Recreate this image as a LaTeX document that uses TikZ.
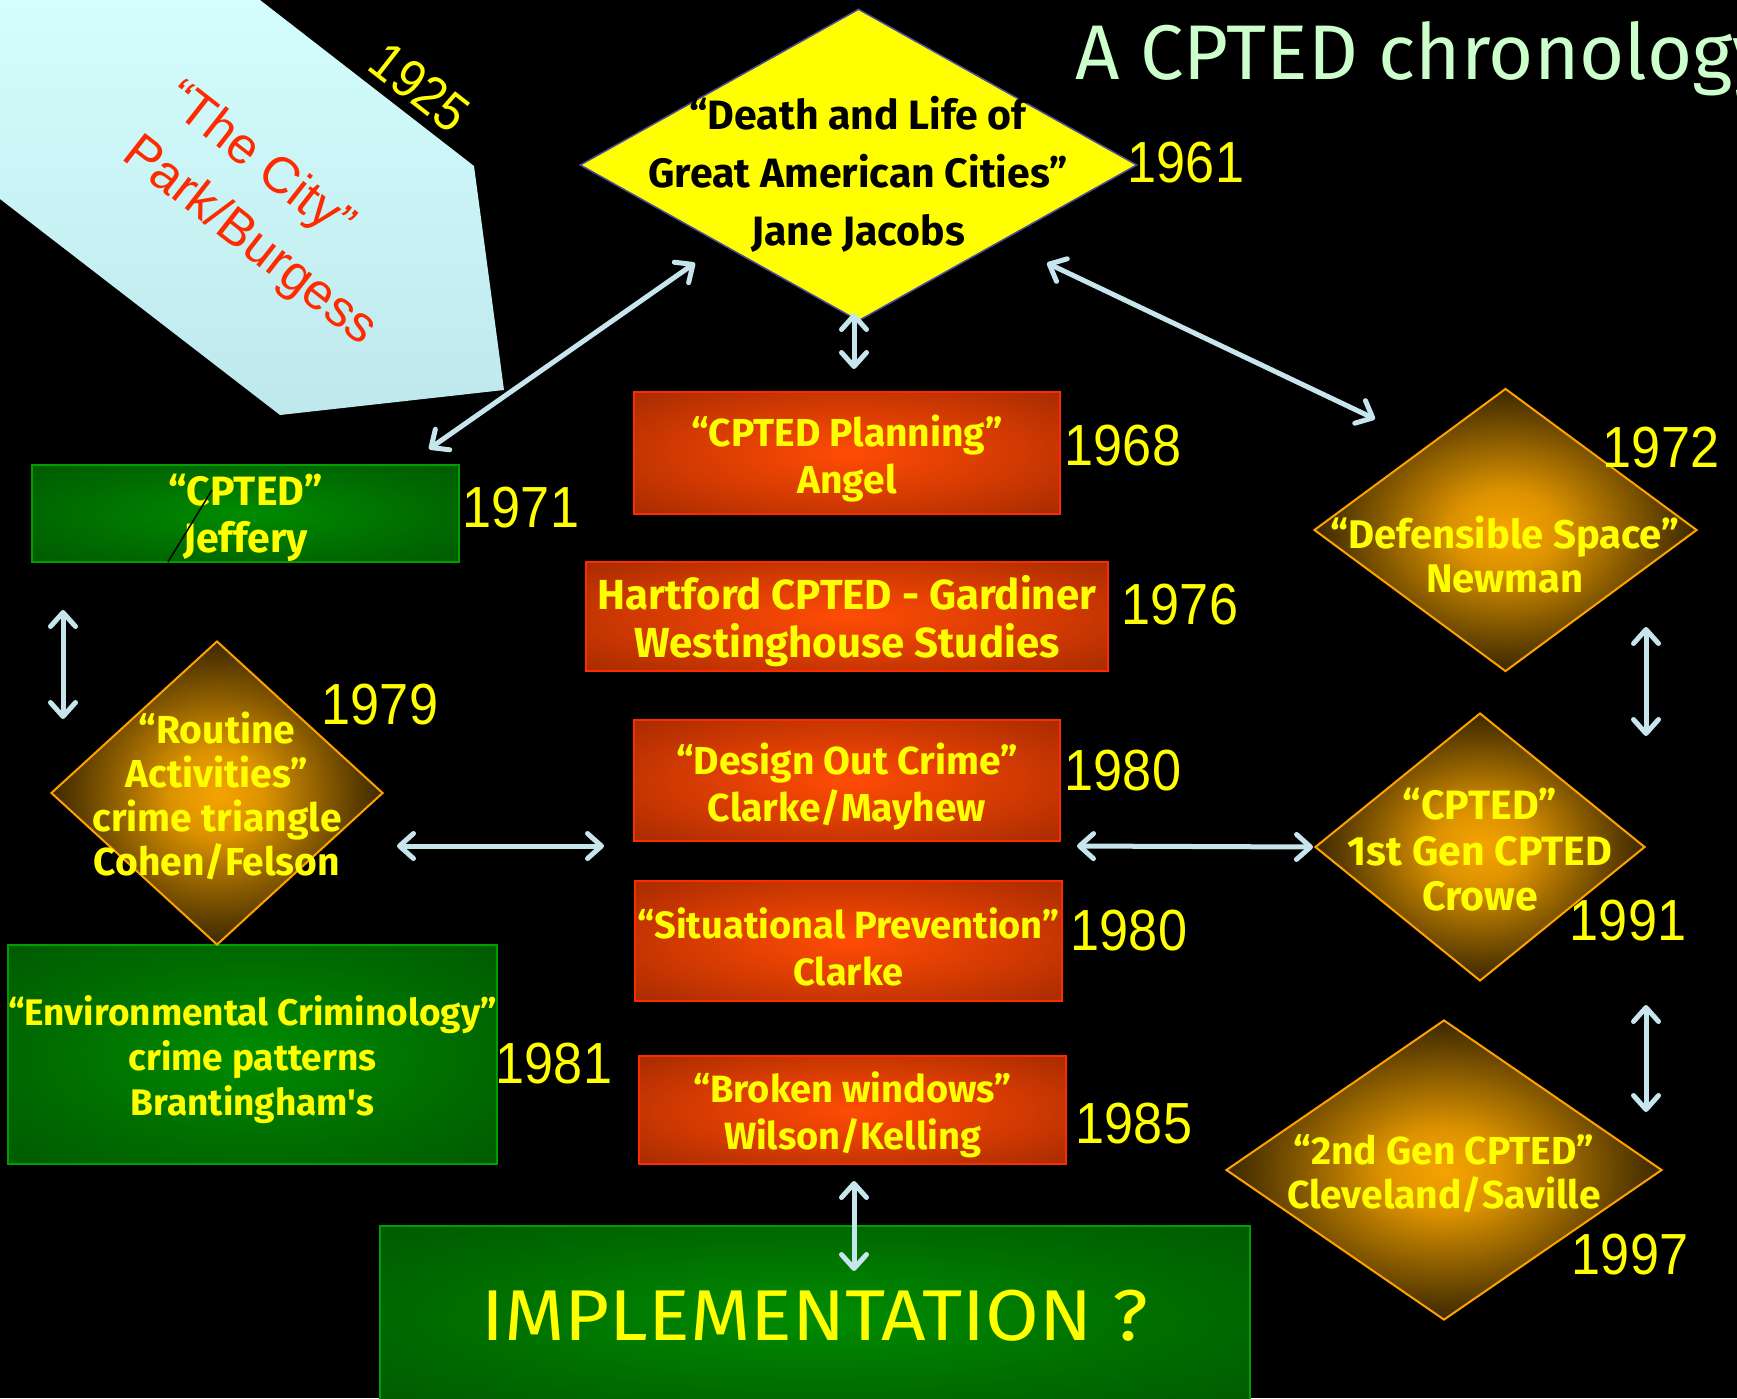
\documentclass[tikz,border=0pt]{standalone}
\usepackage{fontspec}
\usetikzlibrary{shapes.geometric, arrows.meta}
\newfontfamily\boxfont{Fira Sans}
\newfontfamily\implfont{Fira Sans}[FakeStretch=1.08]
\newfontfamily\yearfont{Liberation Sans}[FakeStretch=0.9]
\newfontfamily\cityfont{Liberation Sans}
\definecolor{txtyellow}{HTML}{FFFF00}
\definecolor{boxred}{HTML}{FF2A00}
\definecolor{redin}{HTML}{FF4C05}
\definecolor{redmid}{HTML}{D23A02}
\definecolor{redout}{HTML}{841F00}
\definecolor{boxgreen}{HTML}{009E00}
\definecolor{greenin}{HTML}{008C00}
\definecolor{greenmid}{HTML}{006E00}
\definecolor{greenout}{HTML}{004A00}
\definecolor{diaorange}{HTML}{FFA200}
\definecolor{orangein}{HTML}{F5A300}
\definecolor{linkblue}{HTML}{C6E5EC}
\definecolor{titlegreen}{HTML}{CCFFCC}
\definecolor{penttop}{HTML}{D4FDFD}
\definecolor{pentbot}{HTML}{BEE8EC}
\definecolor{cityred}{HTML}{FF2B00}
\definecolor{diablue}{HTML}{4A4AA0}
\pgfdeclareradialshading{redglow}{\pgfpoint{0bp}{0bp}}{color(0bp)=(redin); color(20bp)=(redmid); color(48bp)=(redout); color(50bp)=(redout)}
\pgfdeclareradialshading{greenglow}{\pgfpoint{0bp}{0bp}}{color(0bp)=(greenin); color(20bp)=(greenmid); color(48bp)=(greenout); color(50bp)=(greenout)}
\pgfdeclareradialshading{orangeglow}{\pgfpoint{0bp}{0bp}}{color(0bp)=(orangein); color(7bp)=(orangein!90!black); color(20bp)=(orangein!42!black); color(32bp)=(black); color(50bp)=(black)}
\tikzset{
  redbox/.style={rectangle, draw=boxred, line width=2pt, shade, shading=redglow, inner sep=0pt},
  greenbox/.style={rectangle, draw=boxgreen, line width=2pt, shade, shading=greenglow, inner sep=0pt},
  glowdia/.style={diamond, draw=diaorange, line width=2pt, shade, shading=orangeglow, inner sep=0pt},
  boxtext/.style={text=txtyellow, align=center, inner sep=0pt},
  yeartext/.style={text=txtyellow, inner sep=0pt, font=\yearfont\fontsize{58}{58}\selectfont},
  citytext/.style={text=cityred, inner sep=0pt, anchor=base west, rotate=-38, font=\cityfont\fontsize{51}{51}\selectfont},
  link/.style={draw=linkblue, line width=5pt, line cap=round, <->,
    >={Straight Barb[length=14pt,width=25pt,line cap=round,line join=round]}},
}
\begin{document}
\begin{tikzpicture}[x=1pt,y=-1pt]
\useasboundingbox (0,0) rectangle (1737,1398);
\clip (0,0) rectangle (1737,1398);
\fill[black] (0,0) rectangle (1737,1398);

% pentagon
\path[top color=penttop, bottom color=pentbot] (0,0) -- (260,0) -- (474,166) -- (504,390) -- (280,415) -- (0,199) -- cycle;
\node[citytext] (city1) at (162,104) {“The City”};
\node[citytext] (city2) at (120,158) {Park/Burgess};
\node[yeartext, rotate=-38, font=\yearfont\fontsize{54}{54}\selectfont] (y1925) at (420,87) {1925};

% title
\node[anchor=base west, inner sep=0pt, text=titlegreen, font=\boxfont\fontsize{77.5}{77.5}\selectfont] (title) at (1075,79) {A CPTED chronology};

% yellow diamond
\node[diamond, draw=diablue, line width=1.5pt, fill=txtyellow, inner sep=0pt, minimum width=557pt, minimum height=312pt] (jacobs) at (858.5,165) {};
\node[boxtext, text=black, font=\boxfont\bfseries\fontsize{41}{58}\selectfont] (jacobstxt) at (858,174) {“Death and Life of\\Great American Cities”\\Jane Jacobs};

% red boxes
\node[redbox, minimum width=426pt, minimum height=122pt] (planning) at (847,453) {};
\node[boxtext, font=\boxfont\bfseries\fontsize{39}{47}\selectfont] (planningtxt) at ([yshift=-6pt]planning.center) {“CPTED Planning”\\Angel};
\node[redbox, minimum width=522pt, minimum height=109pt] (hartford) at (847,616.5) {};
\node[boxtext, font=\boxfont\bfseries\fontsize{42}{48}\selectfont] (hartfordtxt) at ([yshift=-5pt]hartford.center) {Hartford CPTED - Gardiner\\Westinghouse Studies};
\node[redbox, minimum width=426pt, minimum height=121pt] (design) at (847,780.5) {};
\node[boxtext, font=\boxfont\bfseries\fontsize{39}{47}\selectfont] (designtxt) at ([yshift=-6pt]design.center) {“Design Out Crime”\\Clarke/Mayhew};
\node[redbox, minimum width=427pt, minimum height=120pt] (situational) at (848.5,941) {};
\node[boxtext, font=\boxfont\bfseries\fontsize{38}{47}\selectfont] (situationaltxt) at ([yshift=-6pt]situational.center) {“Situational Prevention”\\Clarke};
\node[redbox, minimum width=427pt, minimum height=108pt] (broken) at (852.5,1110) {};
\node[boxtext, font=\boxfont\bfseries\fontsize{38}{47}\selectfont] (brokentxt) at ([yshift=-5pt]broken.center) {“Broken windows”\\Wilson/Kelling};

% green boxes
\node[greenbox, minimum width=427pt, minimum height=97pt] (jeffery) at (245.5,513.5) {};
\node[boxtext, font=\boxfont\bfseries\fontsize{41}{47}\selectfont] (jefferytxt) at ([yshift=-4pt]jeffery.center) {“CPTED”\\Jeffery};
\node[greenbox, minimum width=489pt, minimum height=219pt] (envcrim) at (252.5,1054.5) {};
\node[boxtext, font=\boxfont\bfseries\fontsize{37}{45}\selectfont] (envcrimtxt) at ([yshift=-5pt]envcrim.center) {“Environmental Criminology”\\crime patterns\\Brantingham's};
\node[greenbox, minimum width=870pt, minimum height=180pt] (impl) at (815,1316) {};
\node[boxtext, font=\implfont\fontsize{72}{72}\selectfont] (impltxt) at (impl.center) {IMPLEMENTATION ?};

% orange diamonds
\node[glowdia, minimum width=332pt, minimum height=304pt] (routine) at (217,793) {};
\node[boxtext, font=\boxfont\bfseries\fontsize{39}{44}\selectfont] (routinetxt) at (217,796) {“Routine\\Activities”\\crime triangle\\Cohen/Felson};
\node[glowdia, minimum width=383pt, minimum height=283pt] (defensible) at (1505.5,530) {};
\node[boxtext, font=\boxfont\bfseries\fontsize{40}{44}\selectfont] (defensibletxt) at (1505,555) {“Defensible Space”\\Newman};
\node[glowdia, minimum width=330pt, minimum height=268pt] (crowe) at (1480,847) {};
\node[boxtext, font=\boxfont\bfseries\fontsize{41}{45.5}\selectfont] (crowetxt) at (1480,850) {“CPTED”\\1st Gen CPTED\\Crowe};
\node[glowdia, minimum width=436pt, minimum height=300pt] (gentwo) at (1444,1170) {};
\node[boxtext, font=\boxfont\bfseries\fontsize{39}{44}\selectfont] (gentwotxt) at (1444,1174) {“2nd Gen CPTED”\\Cleveland/Saville};

% years
\node[yeartext] (y1961) at (1186,163) {1961};
\node[yeartext] (y1968) at (1123,446) {1968};
\node[yeartext] (y1971) at (521,508) {1971};
\node[yeartext] (y1972) at (1661,448) {1972};
\node[yeartext] (y1976) at (1180,605) {1976};
\node[yeartext] (y1979) at (380,705) {1979};
\node[yeartext] (y1980a) at (1123,771) {1980};
\node[yeartext] (y1980b) at (1129,931) {1980};
\node[yeartext] (y1981) at (554,1064) {1981};
\node[yeartext] (y1985) at (1134,1124) {1985};
\node[yeartext] (y1991) at (1628,921) {1991};
\node[yeartext] (y1997) at (1630,1255) {1997};

% connector ends
\coordinate (jacobsSW) at (695,263);
\coordinate (jefferyNE) at (429,449);
\coordinate (jacobsSE) at (1047,263);
\coordinate (defensibleNW) at (1375,419);
\coordinate (jacobsS) at (854,313);
\coordinate (planningN) at (854,369);
\coordinate (jefferyS) at (63,610);
\coordinate (routineNW) at (63,719);
\coordinate (routineE) at (397,846);
\coordinate (designW) at (604,846);
\coordinate (designE) at (1077,846);
\coordinate (croweW) at (1313,847);
\coordinate (defensibleSE) at (1646,627);
\coordinate (croweNE) at (1646,736);
\coordinate (croweSE) at (1646,1005);
\coordinate (gentwoNE) at (1646,1112);
\coordinate (brokenS) at (854,1181);
\coordinate (implN) at (854,1271);

\draw[link] (jacobsSW) -- (jefferyNE);
\draw[link] (jacobsSE) -- (defensibleNW);
\draw[link] (jacobsS) -- (planningN);
\draw[link] (jefferyS) -- (routineNW);
\draw[link] (routineE) -- (designW);
\draw[link] (designE) -- (croweW);
\draw[link] (defensibleSE) -- (croweNE);
\draw[link] (croweSE) -- (gentwoNE);
\draw[link] (brokenS) -- (implN);

% stray stroke over the Jeffery box
\coordinate (strayA) at (168,562);
\coordinate (strayB) at (212,490);
\draw[black, line width=1.5pt] (strayA) -- (strayB);
\end{tikzpicture}
\end{document}
